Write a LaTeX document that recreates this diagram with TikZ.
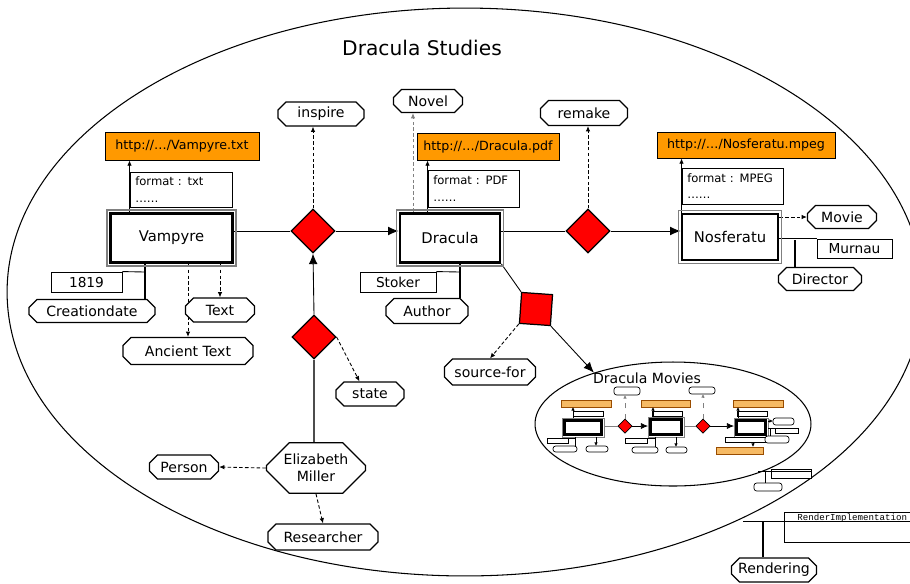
\documentclass[tikz,border=0pt]{standalone}
\usepackage{fontspec}
\setmainfont{DejaVu Sans}
\setmonofont{Liberation Mono}
\usetikzlibrary{shapes.misc,shapes.geometric,arrows.meta,backgrounds}

\definecolor{urlorange}{RGB}{255,153,0}
\definecolor{thumborange}{RGB}{246,186,100}
\definecolor{relred}{RGB}{255,0,0}

\tikzset{
  entity/.style={draw,line width=1.6pt,fill=white,inner sep=0pt,font=\fontsize{8.4}{10}\selectfont},
  urlbox/.style={draw,line width=0.5pt,fill=urlorange,inner sep=0pt,font=\fontsize{7.2}{8.6}\selectfont},
  fmtbox/.style={draw,line width=0.5pt,fill=white,align=left,inner xsep=3pt,inner ysep=1pt,font=\fontsize{6.6}{9.5}\selectfont},
  valbox/.style={draw,line width=0.5pt,fill=white,inner sep=0pt,font=\fontsize{7.8}{9.2}\selectfont},
  octa/.style={chamfered rectangle,chamfered rectangle xsep=2.5pt,chamfered rectangle ysep=2pt,draw,line width=0.7pt,fill=white,inner sep=0pt,font=\fontsize{8}{9.6}\selectfont},
  rel/.style={diamond,draw,line width=0.7pt,fill=relred,inner sep=0pt,minimum width=0.88cm,minimum height=0.88cm},
  flow/.style={line width=0.5pt,-{Latex[length=6pt,width=5pt]}},
  link/.style={line width=0.5pt,-{Latex[length=3pt,width=2.6pt]}},
  dep/.style={line width=0.5pt,dash pattern=on 2pt off 1.3pt,-{Latex[length=3pt,width=2.6pt]}},
  pill/.style={draw,line width=0.4pt,fill=white,rounded corners=1.5pt}
}

\begin{document}
\begin{tikzpicture}[x=0.02cm,y=-0.02cm]
\useasboundingbox (0,0) rectangle (910,583);
\clip (0,0) rectangle (910,583);

% the study as a whole
\draw[line width=0.6pt] (465,292) ellipse [x radius=9.16cm, y radius=5.68cm];
\node[font=\fontsize{11.5}{13.5}\selectfont] (studies) at (422,48) {Dracula Studies};

% works
\node[entity,minimum width=2.44cm,minimum height=0.98cm] (vampyre) at (171.5,238) {Vampyre};
\node[entity,minimum width=2.0cm,minimum height=0.98cm] (dracula) at (450,238) {Dracula};
\node[entity,minimum width=1.92cm,minimum height=0.92cm] (nosferatu) at (730,237) {Nosferatu};
\foreach \n in {vampyre,dracula,nosferatu}
  \draw[gray,line width=0.6pt] ([shift={(-1.2pt,1.2pt)}]\n.north west) rectangle ([shift={(1.2pt,-1.2pt)}]\n.south east);

% files
\node[urlbox,minimum width=3.08cm,minimum height=0.56cm] (vurl) at (182,146) {http://…/Vampyre.txt};
\node[urlbox,minimum width=2.84cm,minimum height=0.54cm] (durl) at (488,146.5) {http://…/Dracula.pdf};
\node[urlbox,minimum width=3.56cm,minimum height=0.52cm] (nurl) at (746,145) {http://…/Nosferatu.mpeg};
\node[fmtbox,text width=1.83cm,minimum height=0.7cm] (vfmt) at (181,189.5) {format : txt\\……};
\node[fmtbox,text width=1.61cm,minimum height=0.74cm] (dfmt) at (473.5,188.5) {format : PDF\\……};
\node[fmtbox,text width=1.81cm,minimum height=0.72cm] (nfmt) at (732.5,186) {format : MPEG\\……};

% attribute values
\node[valbox,minimum width=1.42cm,minimum height=0.4cm] (v1819) at (86.5,282) {1819};
\node[valbox,minimum width=1.52cm,minimum height=0.4cm] (stoker) at (398,282) {Stoker};
\node[valbox,minimum width=1.5cm,minimum height=0.38cm] (murnau) at (854.5,248.5) {Murnau};
\node[draw,line width=0.5pt,minimum width=2.92cm,minimum height=0.6cm,anchor=north west] (rimpl) at (784,512) {};
\node[font=\ttfamily\fontsize{5.2}{6}\selectfont,anchor=north west,inner sep=0pt] (rimpltxt) at (797,513.5) {RenderImplementation};

% classes and roles
\node[octa,minimum width=1.72cm,minimum height=0.48cm] (inspire) at (321,114) {inspire};
\node[octa,minimum width=1.38cm,minimum height=0.46cm] (novel) at (428,101) {Novel};
\node[octa,minimum width=1.74cm,minimum height=0.5cm] (remake) at (584,113) {remake};
\node[octa,minimum width=1.38cm,minimum height=0.46cm] (movie) at (842,217) {Movie};
\node[octa,minimum width=1.66cm,minimum height=0.46cm] (director) at (820,279) {Director};
\node[octa,minimum width=2.52cm,minimum height=0.46cm] (creation) at (92,311) {Creationdate};
\node[octa,minimum width=1.38cm,minimum height=0.48cm] (textclass) at (220,310) {Text};
\node[octa,minimum width=2.6cm,minimum height=0.54cm] (ancient) at (188,351) {Ancient Text};
\node[octa,minimum width=1.64cm,minimum height=0.5cm] (author) at (427,311) {Author};
\node[octa,minimum width=1.82cm,minimum height=0.52cm] (sourcefor) at (490,372) {source-for};
\node[octa,minimum width=1.36cm,minimum height=0.48cm] (state) at (370,394) {state};
\node[octa,minimum width=1.38cm,minimum height=0.48cm] (person) at (184,467) {Person};
\node[octa,minimum width=1.98cm,minimum height=0.94cm,align=center,chamfered rectangle xsep=6.5pt,chamfered rectangle ysep=6.5pt] (eliz) at (316,468) {Elizabeth\\Miller};
\node[octa,minimum width=2.2cm,minimum height=0.52cm] (researcher) at (323,537) {Researcher};
\node[octa,minimum width=1.7cm,minimum height=0.48cm] (rendering) at (774,570) {Rendering};

% relations
\node[rel] (relinspire) at (313,231) {};
\node[rel] (relremake) at (588,231) {};
\node[rel] (relstate) at (314,337) {};
\node[draw,fill=relred,line width=0.7pt,minimum size=0.62cm,inner sep=0pt,rotate=-4] (relsrc) at (536,309) {};

% the movies
\node[ellipse,draw,line width=0.6pt,minimum width=5.52cm,minimum height=2.48cm] (movies) at (673,424) {};
\node[font=\fontsize{8}{9.6}\selectfont] (moviestitle) at (647,378) {Dracula Movies};

\coordinate (vlink) at (145,272);
\coordinate (dlink) at (460,272);
\coordinate (nlink) at (795,240);
\coordinate (novelfoot) at (413,212);
\coordinate (rlink) at (743,521);
\coordinate (rdrop) at (763,521);

\begin{scope}[on background layer]
  \draw[link] (vfmt.west |- vampyre.north) -- (vfmt.west |- vurl.south);
  \draw[line width=0.7pt] (vampyre.south -| vlink) -- (creation.north -| vlink);
  \draw[line width=0.5pt] (vlink) -- (v1819.north east);
  \draw[dep] (vampyre.south -| textclass.north) -- (textclass.north);
  \draw[dep] (vampyre.south -| ancient.north) -- (ancient.north);
  \draw[line width=0.5pt] (vampyre.east |- relinspire) -- (relinspire.west);
  \draw[flow] (relinspire.east) -- (dracula.west |- relinspire);
  \draw[dep] (relinspire.north) -- (relinspire.north |- inspire.south);
  \draw[line width=0.6pt,black!70] (eliz.north -| relstate) -- (relstate.south);
  \draw[flow] (relstate.north) -- (relinspire.south);
  \draw[dep] (relstate.east) -- ([xshift=-6pt]state.north);
  \draw[dep] (eliz.west) -- (person.east);
  \draw[dep] (eliz.south) -- (researcher.north);

  \draw[dep,gray] (novelfoot) -- (novelfoot |- novel.south);
  \draw[link] (dfmt.west |- dracula.north) -- (dfmt.west |- durl.south);
  \draw[line width=0.7pt] (dracula.south -| dlink) -- (author.north -| dlink);
  \draw[line width=0.5pt] (dlink) -- (stoker.north east);
  \draw[line width=0.5pt] (dracula.east |- relremake) -- (relremake.west);
  \draw[flow] (relremake.east) -- (nosferatu.west |- relremake);
  \draw[dep] (relremake.north) -- (relremake.north |- remake.south);
  \draw[line width=0.5pt] (dracula.south east) -- (relsrc.north west);
  \draw[dep] (relsrc.south west) -- (sourcefor.north);
  \draw[flow] (relsrc.south east) -- (movies.147);

  \draw[link] (nfmt.west |- nosferatu.north) -- (nfmt.west |- nurl.south);
  \draw[dep] (nosferatu.east |- movie) -- (movie.west);
  \draw[line width=0.5pt] (nosferatu.east |- murnau.north) -- (murnau.north west);
  \draw[line width=0.7pt] (nlink) -- (director.north -| nlink);

  \draw[line width=0.5pt] (rlink) -- (rlink -| rimpl.east);
  \draw[line width=0.7pt] (rdrop) -- (rendering.north -| rdrop);
\end{scope}

% small copy of the chain inside Dracula Movies
\begin{scope}[line width=0.4pt]
  \foreach \l/\t/\r/\b in {562/418/604/437, 648/417/684/437, 734/418/768/437}{
    \draw[gray,fill=white] (\l,\t) rectangle (\r,\b);
    \draw[line width=1.2pt] (\l+2.5,\t+2.5) rectangle (\r-2.5,\b-2.5);
  }
  \foreach \l/\t/\r/\b in {561/400/611/407, 641/400/690/407, 733/400/783/407, 716/447/763/454}
    \draw[draw=orange!60!black,fill=thumborange] (\l,\t) rectangle (\r,\b);
  \foreach \l/\t/\r/\b in {573/411/603/416, 652/411/682/416, 737/411/767/416, 725/437/767/442,
                           547/438/568/443, 625/438/647/443, 775/428/798/433, 771/469/811/478}
    \draw[fill=white] (\l,\t) rectangle (\r,\b);
  \foreach \l/\t/\r/\b in {553/446/577/452, 586/446/608/452, 632/447/658/453, 666/447/687/453,
                           614/387/640/395, 689/387/715/394, 773/418/794/425, 765/436/789/443, 754/483/782/491}
    \draw[pill] (\l,\t) rectangle (\r,\b);
  \foreach \cx in {625,703}
    \draw[fill=relred] (\cx,419) -- (\cx+7,426) -- (\cx,433) -- (\cx-7,426) -- cycle;
  \draw[-{Latex[length=2pt,width=2pt]}] (573,418) -- (573,407);
  \draw[-{Latex[length=2pt,width=2pt]}] (653,417) -- (653,407);
  \draw[-{Latex[length=2pt,width=2pt]}] (738,418) -- (738,407);
  \draw[-{Latex[length=2pt,width=2pt]}] (753,442) -- (753,447);
  \draw[-{Latex[length=2pt,width=2pt]}] (596,437) -- (596,446);
  \draw[-{Latex[length=2pt,width=2pt]}] (676,437) -- (676,447);
  \draw (575,437) -- (575,446) (568,438) -- (575,438);
  \draw (655,437) -- (655,447) (647,438) -- (655,438);
  \draw[gray] (604,426) -- (618,426);
  \draw[-{Latex[length=4pt,width=3.5pt]}] (632,426) -- (648,426);
  \draw[gray] (684,426) -- (696,426);
  \draw[-{Latex[length=4pt,width=3.5pt]}] (710,426) -- (734,426);
  \draw[dashed,gray,-{Latex[length=2pt,width=2pt]}] (625,419) -- (625,395);
  \draw[dashed,gray,-{Latex[length=2pt,width=2pt]}] (703,419) -- (703,394);
  \draw[-{Latex[length=2pt,width=2pt]}] (768,421) -- (773,421);
  \draw (768,428) -- (775,428) (770,428) -- (770,436);
  \draw (758,471) -- (811,471) (765,471) -- (765,483);
\end{scope}
\end{tikzpicture}
\end{document}
